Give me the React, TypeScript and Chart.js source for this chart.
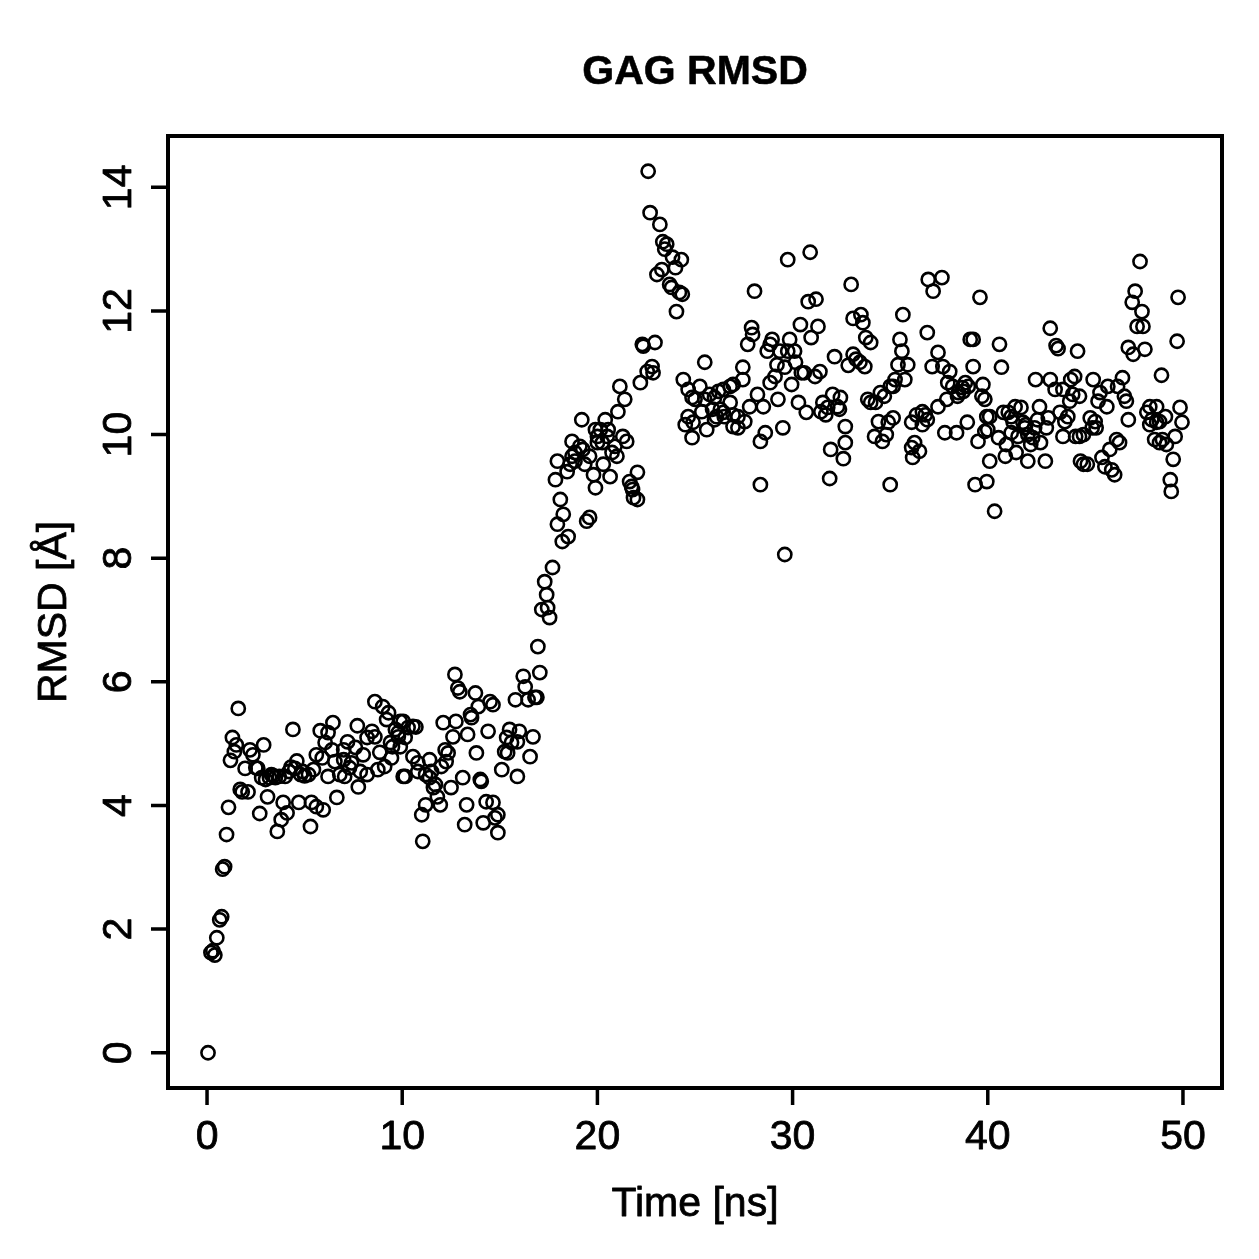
import React, { useEffect, useRef } from "react";
import { Chart, registerables } from "chart.js";

Chart.register(...registerables);

const chartTitle = "GAG RMSD";
const xAxisTitle = "Time [ns]";
const yAxisTitle = "RMSD [Å]";

const xTicks = [0, 10, 20, 30, 40, 50];
const yTicks = [0, 2, 4, 6, 8, 10, 12, 14];
const xLimits = [0, 50];

// Simulation time of each frame (ns)
const timeNs = [
  0.05, 0.2, 0.3, 0.4, 0.5, 0.65, 0.75, 0.8, 0.9, 1.0, 1.1, 1.2, 1.3, 1.4, 1.5, 1.6, 1.7, 1.8, 1.95, 2.1,
  2.2, 2.35, 2.5, 2.6, 2.7, 2.8, 2.9, 3.0, 3.1, 3.2, 3.3, 3.4, 3.5, 3.6, 3.7, 3.8, 3.9, 4.0, 4.1, 4.2,
  4.3, 4.4, 4.5, 4.6, 4.7, 4.8, 4.9, 5.0,
  5.2, 5.3, 5.35, 5.45, 5.6, 5.6, 5.8, 5.9, 5.95, 6.05, 6.2, 6.2, 6.4, 6.45, 6.55, 6.65, 6.8, 7.0, 7.0, 7.05,
  7.2, 7.3, 7.4, 7.6, 7.7, 7.75, 7.85, 8.0, 8.2, 8.2, 8.45, 8.6, 8.6, 8.75, 8.85, 9.0, 9.1, 9.2, 9.3, 9.4,
  9.45, 9.5, 9.65, 9.8, 9.9, 10.05,
  9.8, 9.9, 10.05, 10.15, 10.15, 10.3, 10.55, 10.55, 10.7, 10.8, 10.8, 11.0, 11.05, 11.2, 11.2, 11.4, 11.4, 11.5, 11.6, 11.7,
  11.8, 11.95, 12.0, 12.1, 12.2, 12.25, 12.35, 12.5, 12.6, 12.7, 12.75, 12.85, 12.95, 13.1, 13.2, 13.3, 13.35, 13.5, 13.55, 13.75,
  13.8, 13.9, 14.0, 14.05, 14.15, 14.3, 14.4, 14.5, 14.65, 14.65, 14.75, 14.9, 14.9,
  15.1, 15.25, 15.35, 15.4, 15.5, 15.6, 15.8, 15.9, 15.9, 16.0, 16.2, 16.3, 16.45, 16.55, 16.7, 16.8, 16.9, 16.95, 17.05, 17.15,
  17.3, 17.4, 17.45, 17.55, 17.7, 17.85, 17.95, 17.95, 18.1, 18.2, 18.25, 18.45, 18.5, 18.6, 18.7, 18.7, 18.85, 18.85, 19.1, 19.2,
  19.25, 19.35, 19.45, 19.6, 19.6, 19.8, 19.9, 19.9, 20.0,
  20.0, 20.15, 20.25, 20.3, 20.4, 20.5, 20.55, 20.65, 20.75, 20.9, 21.0, 21.05, 21.15, 21.3, 21.4, 21.5, 21.65, 21.75, 21.8, 21.85,
  22.05, 22.05, 22.2, 22.3, 22.35, 22.55, 22.6, 22.7, 22.8, 22.85, 22.95, 23.05, 23.2, 23.3, 23.35, 23.45, 23.55, 23.7, 23.8, 23.85,
  24.0, 24.05, 24.2, 24.3, 24.35, 24.4, 24.5, 24.65, 24.65, 24.85, 24.85,
  24.9, 25.0, 25.25, 25.35, 25.5, 25.5, 25.6, 25.75, 25.9, 26.0, 26.0, 26.1, 26.2, 26.3, 26.45, 26.45, 26.5, 26.8, 26.8, 26.95,
  26.95, 26.95, 27.2, 27.2, 27.45, 27.45, 27.55, 27.7, 27.8, 27.9, 27.95, 28.05, 28.2, 28.35, 28.35, 28.5, 28.6, 28.7, 28.85, 28.85,
  28.95, 29.1, 29.2, 29.25, 29.35, 29.5, 29.6, 29.6, 29.75, 29.75, 29.85, 29.95,
  30.1, 30.15, 30.3, 30.4, 30.45, 30.6, 30.7, 30.8, 30.9, 30.95, 31.15, 31.2, 31.3, 31.4, 31.45, 31.55, 31.7, 31.8, 31.9, 31.95,
  32.05, 32.15, 32.3, 32.4, 32.45, 32.6, 32.7, 32.7, 32.85, 33.0, 33.1, 33.1, 33.25, 33.45, 33.5, 33.6, 33.7, 33.75, 33.85, 34.0,
  34.0, 34.2, 34.25, 34.4, 34.5, 34.6, 34.7, 34.8, 34.9, 35.0, 35.0,
  35.15, 35.15, 35.25, 35.4, 35.5, 35.6, 35.65, 35.75, 35.9, 36.1, 36.1, 36.15, 36.25, 36.35, 36.5, 36.65, 36.65, 36.8, 36.9, 36.9,
  36.95, 37.15, 37.2, 37.45, 37.45, 37.65, 37.7, 37.8, 37.9, 37.95, 38.05, 38.2, 38.4, 38.45, 38.5, 38.7, 38.75, 38.85, 38.95, 39.0,
  39.1, 39.25, 39.25, 39.35, 39.5, 39.6, 39.7, 39.75, 39.85, 39.85, 39.95, 39.95,
  40.0, 40.1, 40.1, 40.35, 40.55, 40.6, 40.7, 40.8, 40.9, 40.95, 41.05, 41.2, 41.2, 41.3, 41.4, 41.45, 41.55, 41.7, 41.8, 41.9,
  41.95, 42.05, 42.05, 42.2, 42.3, 42.4, 42.45, 42.55, 42.65, 42.7, 42.95, 43.0, 43.1, 43.2, 43.2, 43.45, 43.5, 43.6, 43.7, 43.85,
  43.85, 43.95, 44.1, 44.2, 44.25, 44.35, 44.45, 44.5, 44.6, 44.7, 44.75, 44.9,
  44.7, 44.9, 45.1, 45.25, 45.35, 45.4, 45.5, 45.55, 45.65, 45.75, 45.85, 46.0, 46.1, 46.15, 46.25, 46.35, 46.5, 46.6, 46.65, 46.75,
  46.9, 47.0, 47.1, 47.2, 47.2, 47.4, 47.45, 47.55, 47.65, 47.8, 47.9, 47.95, 48.05, 48.15, 48.3, 48.3, 48.4, 48.55, 48.65, 48.65,
  48.8, 48.8, 48.9, 48.95, 49.1, 49.15, 49.35, 49.4, 49.5, 49.6, 49.7, 49.75, 49.85, 49.95,
];

// RMSD of the GAG chain for each frame (Å)
const rmsdA = [
  0.0, 1.62, 1.65, 1.58, 1.86, 2.15, 2.2, 2.97, 3.01, 3.53, 3.97, 4.73, 5.1, 4.87, 4.98, 5.57, 4.26, 4.22, 4.6, 4.22,
  4.9, 4.82, 4.61, 4.6, 3.87, 4.45, 4.98, 4.42, 4.14, 4.45, 4.5, 4.48, 4.45, 3.58, 4.47, 3.77, 4.05, 4.47, 3.88, 4.55,
  4.62, 5.23, 4.6, 4.72, 4.05, 4.5, 4.55, 4.48,
  4.5, 3.66, 4.05, 4.58, 4.82, 3.98, 5.21, 4.77, 3.93, 5.02, 5.18, 4.47, 4.9, 5.34, 4.71, 4.13, 4.5, 4.9, 4.74, 4.47,
  5.03, 4.61, 4.69, 4.94, 5.29, 4.3, 4.55, 4.82, 5.1, 4.5, 5.2, 5.68, 5.11, 4.58, 4.86, 5.6, 4.63, 5.39, 5.5, 5.02,
  4.77, 4.95, 5.23, 5.11, 5.36, 4.47,
  5.18, 4.95, 5.36, 5.1, 4.47, 5.26, 5.28, 4.79, 5.27, 4.69, 4.55, 3.85, 3.42, 4.5, 4.01, 4.74, 4.45, 4.55, 4.29, 4.34,
  4.14, 4.01, 4.63, 5.34, 4.9, 4.71, 4.85, 4.29, 5.11, 6.12, 5.36, 5.9, 5.84, 4.45, 3.69, 4.01, 5.15, 5.47, 5.42, 5.82,
  4.85, 5.6, 4.42, 4.39, 3.72, 4.06, 5.2, 5.68, 5.63, 4.05, 3.8, 3.85, 3.56,
  4.58, 4.87, 5.1, 4.85, 5.23, 5.02, 5.71, 5.03, 4.47, 5.2, 6.09, 5.92, 5.71, 4.79, 5.11, 5.75, 5.75, 6.57, 6.15, 7.17,
  7.62, 7.41, 7.2, 7.04, 7.85, 9.27, 8.55, 9.57, 8.95, 8.27, 8.71, 9.4, 8.35, 9.52, 9.89, 9.65, 9.71, 9.57, 9.81, 10.24,
  9.76, 9.52, 8.6, 8.66, 9.65, 9.35, 10.08, 9.14, 9.87,
  9.97, 10.08, 9.87, 9.52, 10.24, 9.97, 10.08, 9.32, 9.71, 9.81, 9.65, 10.37, 10.78, 9.97, 10.57, 9.89, 9.24, 9.16, 9.11, 8.98,
  8.95, 9.39, 10.84, 11.46, 11.43, 11.02, 14.26, 13.59, 11.1, 11.0, 11.49, 12.59, 13.4, 12.67, 13.12, 13.0, 13.08, 12.43, 12.38, 12.87,
  12.7, 11.99, 12.3, 12.83, 12.27, 10.89, 10.16, 10.73, 10.29, 10.6, 9.95,
  10.2, 10.57, 10.78, 10.37, 11.17, 10.57, 10.08, 10.65, 10.41, 10.6, 10.24, 10.29, 10.7, 10.41, 10.73, 10.36, 10.29, 10.78, 10.52, 10.81,
  10.32, 10.13, 10.29, 10.11, 11.09, 10.89, 10.21, 11.46, 10.45, 11.73, 11.62, 12.32, 10.65, 9.89, 9.19, 10.45, 10.03, 11.35, 11.46, 10.84,
  11.54, 10.94, 11.13, 10.57, 11.35, 10.11, 11.09, 8.06, 12.83, 11.35, 11.54, 10.81,
  11.35, 11.17, 10.52, 11.78, 11.0, 11.0, 10.36, 12.15, 12.95, 11.57, 10.94, 12.19, 11.75, 11.02, 10.37, 10.52, 10.32, 10.44, 9.29, 9.76,
  10.65, 11.26, 10.45, 10.41, 10.6, 9.61, 10.13, 9.87, 11.12, 12.43, 11.88, 11.3, 11.22, 11.17, 11.94, 11.81, 11.1, 11.57, 10.57, 11.49,
  10.52, 9.97, 10.52, 10.21, 10.68, 9.89, 10.62, 10.0, 10.2, 10.78, 9.19,
  10.78, 10.27, 10.89, 11.13, 11.54, 11.35, 11.94, 10.89, 11.13, 10.2, 9.79, 9.63, 9.87, 10.32, 9.73, 10.37, 10.16, 10.32, 11.65, 10.24,
  12.51, 11.1, 12.32, 11.33, 10.45, 12.54, 11.1, 10.03, 10.57, 10.84, 11.02, 10.78, 10.03, 10.62, 10.68, 10.76, 10.7, 10.84, 10.2, 10.78,
  11.54, 11.54, 11.1, 9.19, 9.89, 12.22, 10.62, 10.81, 10.57, 10.05, 10.29, 9.24,
  10.08, 10.29, 9.57, 8.76, 9.95, 11.46, 11.09, 10.36, 9.65, 9.84, 10.36, 10.29, 10.03, 10.2, 10.45, 9.71, 9.97, 10.44, 10.2, 10.11,
  10.16, 10.0, 9.57, 9.84, 9.95, 10.11, 10.89, 10.24, 10.45, 9.87, 9.57, 10.11, 10.27, 11.72, 10.89, 10.73, 11.44, 11.39, 10.36, 10.73,
  9.97, 10.21, 10.29, 10.54, 10.89, 10.65, 10.94, 9.97, 11.35, 9.97, 9.57, 9.52,
  10.62, 10.0, 9.52, 10.27, 10.11, 10.89, 10.21, 10.11, 10.54, 10.68, 9.63, 9.48, 10.45, 10.78, 9.76, 9.43, 9.35, 9.92, 10.78, 9.87,
  10.92, 10.62, 10.54, 11.41, 10.24, 12.14, 11.3, 12.32, 11.75, 12.8, 11.99, 11.75, 11.38, 10.36, 10.45, 10.16, 10.24, 9.92, 10.45, 10.2,
  10.21, 9.87, 10.96, 9.92, 10.29, 9.84, 9.27, 9.08, 9.6, 9.97, 11.51, 12.22, 10.44, 10.2,
];

const FONT = '"Liberation Sans", Arial, Helvetica, sans-serif';

// Draws text with a hairline outline so glyphs have the weight of the plotting device
function heavyText(ctx: CanvasRenderingContext2D, text: string, x: number, y: number, outline: number) {
  ctx.fillText(text, x, y);
  if (outline > 0) {
    ctx.lineWidth = outline;
    ctx.strokeText(text, x, y);
  }
}

// Base-graphics style frame, ticks and labels drawn from the scales
const baseAxes = {
  id: "baseAxes",
  afterDraw(chart: any) {
    const { ctx, chartArea } = chart;
    const { left, right, top, bottom } = chartArea;
    const xs = chart.scales.x;
    const ys = chart.scales.y;
    const tickLen = 17;
    ctx.save();
    ctx.strokeStyle = "#000";
    ctx.fillStyle = "#000";
    ctx.lineCap = "butt";
    ctx.lineJoin = "miter";
    ctx.lineWidth = 4;
    ctx.strokeRect(left, top, right - left, bottom - top);

    ctx.lineWidth = 3.5;
    ctx.beginPath();
    for (const v of xTicks) {
      const px = xs.getPixelForValue(v);
      ctx.moveTo(px, bottom);
      ctx.lineTo(px, bottom + tickLen);
    }
    for (const v of yTicks) {
      const py = ys.getPixelForValue(v);
      ctx.moveTo(left, py);
      ctx.lineTo(left - tickLen, py);
    }
    ctx.stroke();

    ctx.font = `41px ${FONT}`;
    ctx.textAlign = "center";
    ctx.textBaseline = "alphabetic";
    ctx.lineJoin = "round";
    for (const v of xTicks) {
      heavyText(ctx, String(v), xs.getPixelForValue(v), bottom + 61, 0.8);
    }
    for (const v of yTicks) {
      ctx.save();
      ctx.translate(left - 37, ys.getPixelForValue(v));
      ctx.rotate(-Math.PI / 2);
      heavyText(ctx, String(v), 0, 0, 0.8);
      ctx.restore();
    }

    const cx = (left + right) / 2;
    const cy = (top + bottom) / 2;
    heavyText(ctx, xAxisTitle, cx, bottom + 128, 0.8);
    ctx.save();
    ctx.translate(66, cy);
    ctx.rotate(-Math.PI / 2);
    heavyText(ctx, yAxisTitle, 0, 0, 0.8);
    ctx.restore();

    ctx.font = `bold 41px ${FONT}`;
    heavyText(ctx, chartTitle, cx, 84, 0.6);
    ctx.restore();
  },
};

export default function App() {
  const canvasRef = useRef<HTMLCanvasElement | null>(null);

  useEffect(() => {
    document.body.style.margin = "0";
    const canvas = canvasRef.current;
    if (!canvas) return;

    const points = timeNs.map((t, i) => ({ x: t, y: rmsdA[i] }));
    const xPad = 0.04 * (xLimits[1] - xLimits[0]);
    const yLo = Math.min(...rmsdA);
    const yHi = Math.max(...rmsdA);
    const yPad = 0.04 * (yHi - yLo);

    const chart = new Chart(canvas, {
      type: "scatter",
      data: {
        datasets: [
          {
            data: points,
            pointStyle: "circle",
            pointRadius: 6.6,
            pointHoverRadius: 6.6,
            pointBorderWidth: 2.6,
            pointBackgroundColor: "rgba(0,0,0,0)",
            pointBorderColor: "#000",
            clip: false as any,
          },
        ],
      },
      options: {
        responsive: false,
        animation: false,
        events: [],
        layout: { padding: { top: 136, right: 37, left: 0, bottom: 0 } },
        plugins: {
          legend: { display: false },
          tooltip: { enabled: false },
          title: { display: false },
        },
        scales: {
          x: {
            type: "linear",
            min: xLimits[0] - xPad,
            max: xLimits[1] + xPad,
            grid: { display: false },
            border: { display: false },
            ticks: { display: false },
            afterFit: (s: any) => {
              s.height = 171;
            },
          },
          y: {
            type: "linear",
            min: yLo - yPad,
            max: yHi + yPad,
            grid: { display: false },
            border: { display: false },
            ticks: { display: false },
            afterFit: (s: any) => {
              s.width = 168;
            },
          },
        },
      },
      plugins: [baseAxes],
    });

    return () => chart.destroy();
  }, []);

  return (
    <div style={{ position: "absolute", left: 0, top: 0, width: 1259, height: 1259, background: "#fff" }}>
      <canvas ref={canvasRef} width={1259} height={1259} style={{ display: "block", width: 1259, height: 1259 }} />
    </div>
  );
}
